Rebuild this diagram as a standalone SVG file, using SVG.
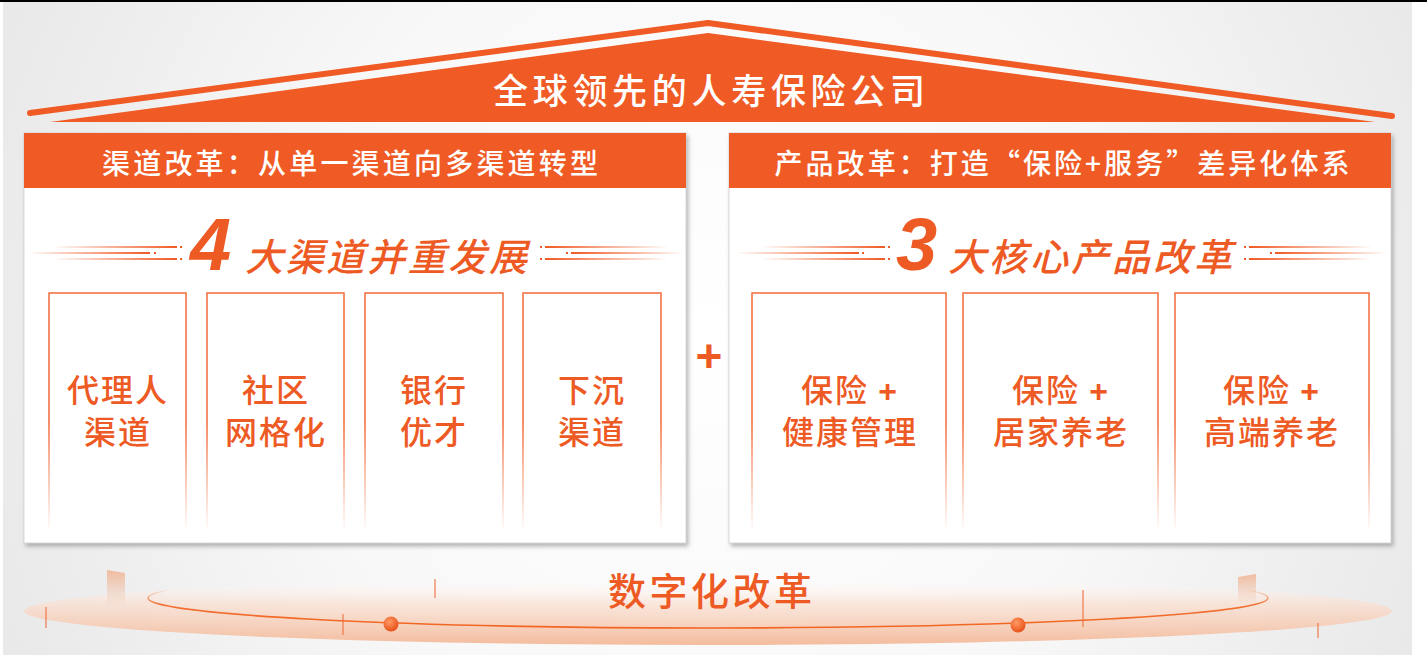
<svg xmlns="http://www.w3.org/2000/svg" width="1427" height="659" viewBox="0 0 1427 659">
<defs>
<style>
.cjk{font-family:"Noto Sans CJK SC","Noto Sans CJK JP",sans-serif;}
.white{fill:#ffffff;}
.org{fill:#EE5A24;}
.hdr{fill:#F05A24;}
.box{fill:none;stroke:url(#boxStroke);stroke-width:1.5;}
.boxtxt{font-family:"Noto Sans CJK SC","Noto Sans CJK JP",sans-serif;font-size:32px;font-weight:500;fill:#EE5A24;text-anchor:middle;letter-spacing:2px;}
.tick{stroke:#F07040;stroke-width:1.3;opacity:0.85;}
.big{font-family:"Noto Sans CJK SC","Noto Sans CJK JP",sans-serif;font-size:38px;font-weight:500;font-style:italic;fill:#EE5A24;letter-spacing:3px;}
.num{font-family:"Liberation Sans",Arial,sans-serif;font-size:74px;font-weight:bold;font-style:italic;fill:#EE5A24;}
</style>
<radialGradient id="bg" cx="710" cy="330" r="760" gradientUnits="userSpaceOnUse">
<stop offset="0" stop-color="#ffffff"/>
<stop offset="0.55" stop-color="#f8f8f8"/>
<stop offset="1" stop-color="#e9e9e9"/>
</radialGradient>
<linearGradient id="boxStroke" x1="0" y1="293" x2="0" y2="532" gradientUnits="userSpaceOnUse">
<stop offset="0" stop-color="#F26B3A" stop-opacity="1"/>
<stop offset="0.55" stop-color="#F26B3A" stop-opacity="1"/>
<stop offset="1" stop-color="#F26B3A" stop-opacity="0"/>
</linearGradient>
<linearGradient id="fadeL" x1="0" y1="0" x2="1" y2="0">
<stop offset="0" stop-color="#F05A24" stop-opacity="0"/>
<stop offset="1" stop-color="#F05A24" stop-opacity="1"/>
</linearGradient>
<linearGradient id="fadeR" x1="0" y1="0" x2="1" y2="0">
<stop offset="0" stop-color="#F05A24" stop-opacity="1"/>
<stop offset="1" stop-color="#F05A24" stop-opacity="0"/>
</linearGradient>
<linearGradient id="disk" x1="0" y1="578" x2="0" y2="646" gradientUnits="userSpaceOnUse">
<stop offset="0" stop-color="#ffffff" stop-opacity="0"/>
<stop offset="0.35" stop-color="#fae0d2" stop-opacity="0.7"/>
<stop offset="1" stop-color="#f3b796" stop-opacity="0.95"/>
</linearGradient>
<linearGradient id="ring" x1="0" y1="568" x2="0" y2="628" gradientUnits="userSpaceOnUse">
<stop offset="0" stop-color="#F26522" stop-opacity="0"/>
<stop offset="0.36" stop-color="#F26522" stop-opacity="0"/>
<stop offset="0.6" stop-color="#F26522" stop-opacity="0.9"/>
<stop offset="1" stop-color="#F26522" stop-opacity="1"/>
</linearGradient>
<linearGradient id="slab" x1="0" y1="0" x2="0" y2="1">
<stop offset="0" stop-color="#F0A67E" stop-opacity="0.7"/>
<stop offset="1" stop-color="#F0A67E" stop-opacity="0"/>
</linearGradient>
<radialGradient id="dot" cx="0.4" cy="0.35" r="0.65">
<stop offset="0" stop-color="#ff9a66"/>
<stop offset="1" stop-color="#e8521a"/>
</radialGradient>
<filter id="shadow" x="-5%" y="-5%" width="110%" height="115%">
<feDropShadow dx="2" dy="3" stdDeviation="2" flood-color="#777777" flood-opacity="0.55"/>
</filter>
</defs>

<!-- background -->
<rect x="0" y="0" width="1427" height="659" fill="#ffffff"/>
<rect x="3" y="2" width="1409" height="653" fill="url(#bg)"/>
<rect x="0" y="0" width="1427" height="2" fill="#000000"/>

<!-- roof -->
<g id="roof">
<polygon points="50,122 708,33 1375,122" class="hdr"/>
<polyline points="30,113 708,23 1392,116" fill="none" stroke="#F05A24" stroke-width="6" stroke-linecap="round" stroke-linejoin="round"/>
<text x="709" y="104" class="cjk white" font-size="35" font-weight="500" text-anchor="middle" textLength="432" lengthAdjust="spacing">全球领先的人寿保险公司</text>
</g>

<!-- left panel -->
<g id="panel-channel">
<rect x="24" y="133" width="662" height="410" fill="#ffffff" stroke="#cfcfcf" stroke-width="0.8" filter="url(#shadow)"/>
<rect x="24" y="133" width="662" height="55" class="hdr"/>
<text x="350" y="174" class="cjk white" font-size="28" font-weight="500" text-anchor="middle" textLength="496" lengthAdjust="spacing">渠道改革：从单一渠道向多渠道转型</text>
<g id="title-left">
<rect x="53" y="246" width="124" height="2" fill="url(#fadeL)"/>
<rect x="27" y="252" width="123" height="2" fill="url(#fadeL)"/>
<rect x="53" y="258" width="124" height="2" fill="url(#fadeL)"/>
<rect x="180" y="246" width="2" height="2" class="hdr"/>
<rect x="154" y="252" width="2" height="2" class="hdr"/>
<rect x="180" y="258" width="2" height="2" class="hdr"/>
<rect x="545" y="246" width="124" height="2" fill="url(#fadeR)"/>
<rect x="571" y="252" width="114" height="2" fill="url(#fadeR)"/>
<rect x="545" y="258" width="124" height="2" fill="url(#fadeR)"/>
<rect x="540" y="246" width="2" height="2" class="hdr"/>
<rect x="566" y="252" width="2" height="2" class="hdr"/>
<rect x="540" y="258" width="2" height="2" class="hdr"/>
<text x="190" y="270" class="num">4</text>
<text x="245" y="271" class="big" textLength="285" lengthAdjust="spacing">大渠道并重发展</text>
</g>
</g>

<g id="box-agent">
<rect x="49" y="293" width="137" height="240" class="box"/>
<text x="118" y="402" class="boxtxt">代理人</text>
<text x="118" y="444" class="boxtxt">渠道</text>
</g>
<g id="box-community">
<rect x="207" y="293" width="137" height="240" class="box"/>
<text x="276" y="402" class="boxtxt">社区</text>
<text x="276" y="444" class="boxtxt">网格化</text>
</g>
<g id="box-bank">
<rect x="365" y="293" width="138" height="240" class="box"/>
<text x="434" y="402" class="boxtxt">银行</text>
<text x="434" y="444" class="boxtxt">优才</text>
</g>
<g id="box-sink">
<rect x="523" y="293" width="138" height="240" class="box"/>
<text x="592" y="402" class="boxtxt">下沉</text>
<text x="592" y="444" class="boxtxt">渠道</text>
</g>

<!-- plus -->
<g id="plus">
<text x="709" y="372" font-family="Liberation Sans, Arial, sans-serif" font-size="46" font-weight="bold" fill="#EE5A24" text-anchor="middle">+</text>
</g>

<!-- right panel -->
<g id="panel-product">
<rect x="729" y="133" width="662" height="410" fill="#ffffff" stroke="#cfcfcf" stroke-width="0.8" filter="url(#shadow)"/>
<rect x="729" y="133" width="662" height="55" class="hdr"/>
<text x="1062" y="174" class="cjk white" font-size="28" font-weight="500" text-anchor="middle" textLength="575" lengthAdjust="spacing">产品改革：打造“保险+服务”差异化体系</text>
<g id="title-right">
<rect x="761" y="246" width="124" height="2" fill="url(#fadeL)"/>
<rect x="735" y="252" width="124" height="2" fill="url(#fadeL)"/>
<rect x="761" y="258" width="124" height="2" fill="url(#fadeL)"/>
<rect x="888" y="246" width="2" height="2" class="hdr"/>
<rect x="862" y="252" width="2" height="2" class="hdr"/>
<rect x="888" y="258" width="2" height="2" class="hdr"/>
<rect x="1249" y="246" width="124" height="2" fill="url(#fadeR)"/>
<rect x="1275" y="252" width="113" height="2" fill="url(#fadeR)"/>
<rect x="1249" y="258" width="124" height="2" fill="url(#fadeR)"/>
<rect x="1244" y="246" width="2" height="2" class="hdr"/>
<rect x="1270" y="252" width="2" height="2" class="hdr"/>
<rect x="1244" y="258" width="2" height="2" class="hdr"/>
<text x="896" y="270" class="num">3</text>
<text x="948" y="271" class="big" textLength="287" lengthAdjust="spacing">大核心产品改革</text>
</g>
</g>

<g id="box-health">
<rect x="752" y="293" width="194" height="240" class="box"/>
<text x="850" y="402" class="boxtxt">保险 <tspan font-family="Liberation Sans, Arial, sans-serif" font-weight="bold">+</tspan></text>
<text x="850" y="444" class="boxtxt">健康管理</text>
</g>
<g id="box-home">
<rect x="963" y="293" width="195" height="240" class="box"/>
<text x="1061" y="402" class="boxtxt">保险 <tspan font-family="Liberation Sans, Arial, sans-serif" font-weight="bold">+</tspan></text>
<text x="1061" y="444" class="boxtxt">居家养老</text>
</g>
<g id="box-premium">
<rect x="1175" y="293" width="194" height="240" class="box"/>
<text x="1272" y="402" class="boxtxt">保险 <tspan font-family="Liberation Sans, Arial, sans-serif" font-weight="bold">+</tspan></text>
<text x="1272" y="444" class="boxtxt">高端养老</text>
</g>

<!-- digital base -->
<g id="digital-base">
<ellipse cx="708" cy="611" rx="684" ry="34" fill="url(#disk)"/>
<polygon points="107,570 125,573 125,606 107,606" fill="url(#slab)"/>
<polygon points="1238,577 1256,574 1256,604 1238,604" fill="url(#slab)"/>
<ellipse cx="708" cy="598" rx="560" ry="30" fill="none" stroke="url(#ring)" stroke-width="1.6"/>
<line x1="46" y1="607" x2="46" y2="628" class="tick"/>
<line x1="343" y1="614" x2="343" y2="635" class="tick"/>
<line x1="435" y1="579" x2="435" y2="598" class="tick"/>
<line x1="1083" y1="590" x2="1083" y2="627" class="tick"/>
<line x1="1318" y1="623" x2="1318" y2="638" class="tick"/>
<circle cx="391" cy="624" r="7.5" fill="url(#dot)"/>
<circle cx="1018" cy="625" r="7.5" fill="url(#dot)"/>
<text x="710" y="605" class="cjk org" font-size="38" font-weight="500" text-anchor="middle" textLength="204" lengthAdjust="spacing">数字化改革</text>
</g>
</svg>
